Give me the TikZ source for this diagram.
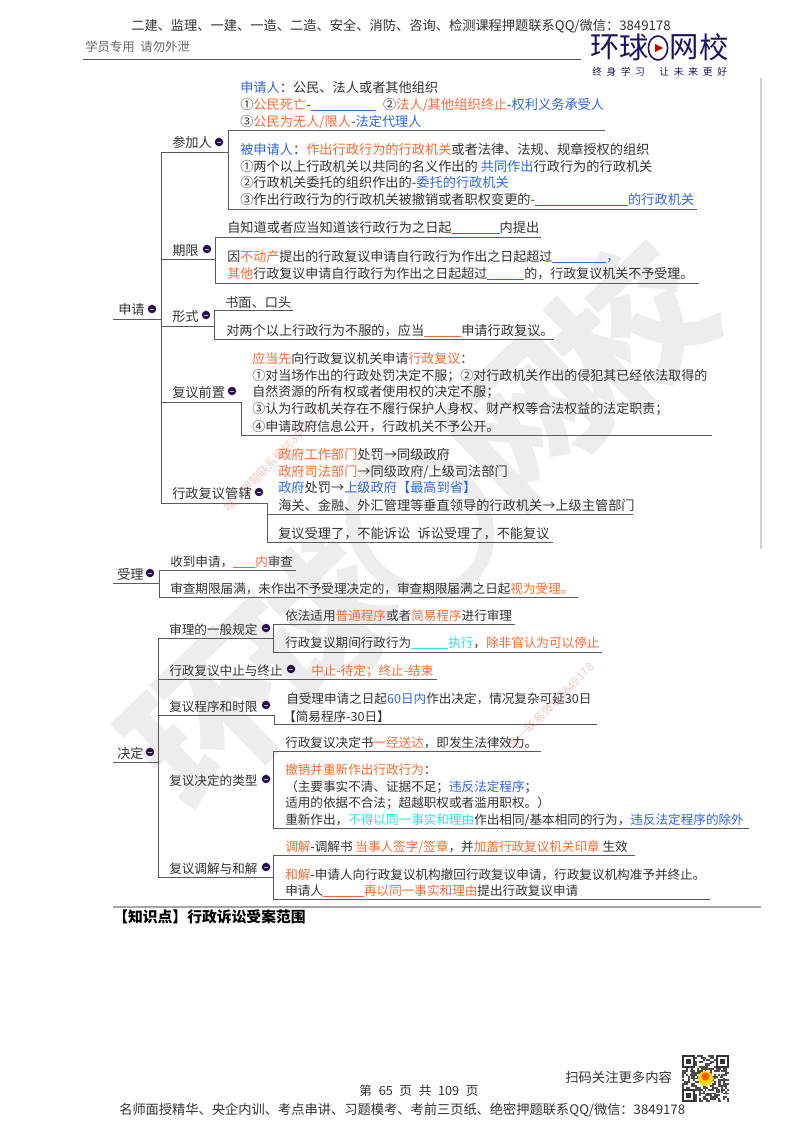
\documentclass[tikz,border=0pt]{standalone}
\usepackage{fontspec}
\usetikzlibrary{shapes.geometric}
\setmainfont{Noto Sans CJK SC}
\definecolor{ink}{HTML}{333333}
\definecolor{org}{HTML}{F96A35}
\definecolor{blu}{HTML}{2F66E8}
\definecolor{cya}{HTML}{2FE3E3}
\definecolor{rul}{HTML}{5A5A5A}
\definecolor{dotc}{HTML}{2A1250}
\definecolor{navy}{HTML}{1B1464}
\definecolor{wm}{HTML}{EDEDED}
\definecolor{pinkw}{HTML}{F3C9C9}
\newcommand\org[1]{\textcolor{org}{#1}}
\newcommand\blu[1]{\textcolor{blu}{#1}}
\newcommand\cya[1]{\textcolor{cya}{#1}}
\newcommand\blk[2]{\textcolor{#1}{\rule[-1pt]{\dimexpr#2pt*3/4\relax}{0.75pt}}}
\newcommand\tx[4]{\node[txt] (#1) at (#2,#3) {#4};}
\newcommand\dt[3]{\node[dotm] (#1) at (#2,#3) {};}
\newcommand\fsb{\fontsize{9.75pt}{12pt}\selectfont}
\newcommand\fsc{\fontsize{9.45pt}{12pt}\selectfont}
\tikzset{
 txt/.style={anchor=base west,inner sep=0pt,yshift=-3.4pt,text=ink,font=\fontsize{9.9pt}{12pt}\selectfont},
 rl/.style={draw=rul,line width=0.7pt},
 dotm/.style={circle,inner sep=0pt,minimum size=6.4pt,fill=dotc,path picture={\draw[gray!60,line width=.4pt] ([xshift=1.4pt]path picture bounding box.west)--([xshift=-1.4pt]path picture bounding box.east);}},
}
\begin{document}
\begin{tikzpicture}[x=0.75pt,y=-0.75pt]
\useasboundingbox (0,0) rectangle (800,1132);
\fill[white] (0,0) rectangle (800,1132);
% big watermark
\begin{scope}[shift={(420,525)},rotate=43.5]
 \foreach \u/\c/\n in {-290/环/wa,-145/球/wb,150/网/wc,290/校/wd}
  \node[text=wm,rotate=43.5,inner sep=0pt,font=\fontsize{115pt}{115pt}\selectfont\bfseries] (\n) at (\u,0) {\c};
 \draw[wm,line width=11pt] (0,0) ellipse (62 and 72);
\end{scope}
% pink watermarks
\node[rotate=46,text=pinkw,inner sep=0pt,font=\fontsize{8.8pt}{10pt}\selectfont] (pka) at (275,459) {唯一押题联系微信3849178};
\node[rotate=45,text=pinkw,inner sep=0pt,font=\fontsize{8.8pt}{10pt}\selectfont] (pkb) at (551,706) {唯一联系微信3849178};
% header
\node[anchor=base west,inner sep=0pt,text=ink,font=\fontsize{9.93pt}{12pt}\selectfont] (hdr) at (131,30) {二建、监理、一建、一造、二造、安全、消防、咨询、检测课程押题联系QQ/微信：3849178};
\node[anchor=base west,inner sep=0pt,text=black!60,font=\fontsize{9.3pt}{12pt}\selectfont] (stu) at (85,51) {学员专用\ \ 请勿外泄};
\coordinate (h1) at (83,59); \coordinate (h2) at (581,59); \draw[rl] (h1)--(h2);
% logo
\foreach \x/\c/\n in {605/环/la,634/球/lb,684/网/lc,714/校/ld}
 \node[text=navy,inner sep=0pt,font=\fontsize{22pt}{24pt}\selectfont] (\n) at (\x,47) {\c};
\node[draw=navy,line width=1.2pt,ellipse,minimum width=14.5pt,minimum height=18pt,inner sep=0pt] (lring) at (658,48) {};
\fill[red!80!black] (655,44)--(663,48)--(655,52)--cycle;
\node[anchor=base west,inner sep=0pt,text=navy,font=\fontsize{7.3pt}{9pt}\selectfont] (sl1) at (592,75) {终\hspace{3.4pt}身\hspace{3.4pt}学\hspace{3.4pt}习};
\node[anchor=base west,inner sep=0pt,text=navy,font=\fontsize{7.3pt}{9pt}\selectfont] (sl2) at (659,75) {让\hspace{3.6pt}未\hspace{3.6pt}来\hspace{3.6pt}更\hspace{3.6pt}好};
\coordinate (r1) at (761,78); \coordinate (r2) at (761,549); \draw[black!18,line width=1.5pt] (r1)--(r2);
% root 申请
\tx{sq}{118}{310}{申请} \dt{dsq}{152}{309}
\coordinate (sqa) at (113,319); \coordinate (sqb) at (161,319); \draw[rl] (sqa)--(sqb);
\coordinate (tr1) at (161,152); \coordinate (tr2) at (161,503); \draw[rl] (tr1)--(tr2);
% 参加人
\tx{cjr}{172}{143}{参加人} \dt{dcj}{219}{142}
\coordinate (cj0) at (228,152); \draw[rl] (tr1)--(cj0);
\coordinate (cj1) at (605,130); \coordinate (cj2) at (228,130); \coordinate (cj3) at (228,209); \coordinate (cj4) at (697,209);
\draw[rl] (cj1)--(cj2)--(cj3)--(cj4);
\tx{a1}{240}{88}{\blu{申请人}：公民、法人或者其他组织}
\tx{a2}{240}{105}{①\org{公民死亡}-\blk{blu}{65}\hspace{5.5pt}②\org{法人/其他组织终止}-\blu{权利义务承受人}}
\tx{a3}{240}{122}{③\org{公民为无人/限人}-\blu{法定代理人}}
\tx{a4}{240}{150}{\blu{被申请人}：\org{作出行政行为的行政机关}或者法律、法规、规章授权的组织}
\tx{a5}{240}{167}{①两个以上行政机关以共同的名义作出的 \blu{共同作出}行政行为的行政机关}
\tx{a6}{240}{183}{②行政机关委托的组织作出的-\blu{委托的行政机关}}
\tx{a7}{240}{200}{③作出行政行为的行政机关被撤销或者职权变更的-\blk{blu}{93}\blu{的行政机关}}
% 期限
\tx{qx}{172}{251}{期限} \dt{dqx}{207}{249}
\coordinate (qxa) at (161,259); \coordinate (qxb) at (215,259); \draw[rl] (qxa)--(qxb);
\coordinate (qx1) at (541,237); \coordinate (qx2) at (215,237); \coordinate (qx3) at (215,283); \coordinate (qx4) at (699,283);
\draw[rl] (qx1)--(qx2)--(qx3)--(qx4);
\tx{b1}{227}{228}{自知道或者应当知道该行政行为之日起\blk{blu}{48}内提出}
\tx{b2}{227}{257}{\fsb 因\org{不动产}提出的行政复议申请自行政行为作出之日起超过\blk{blu}{54}\blu{，}}
\tx{b3}{227}{274}{\fsb\org{其他}行政复议申请自行政行为作出之日起超过\blk{blu}{37}的，行政复议机关不予受理。}
% 形式
\tx{xs}{172}{317}{形式} \dt{dxs}{206}{315}
\coordinate (xsa) at (161,326); \coordinate (xsb) at (214,326); \draw[rl] (xsa)--(xsb);
\coordinate (xs1) at (293,310); \coordinate (xs2) at (214,310); \coordinate (xs3) at (214,339); \coordinate (xs4) at (554,339);
\draw[rl] (xs1)--(xs2)--(xs3)--(xs4);
\tx{c1}{225}{303}{书面、口头}
\tx{c2}{226}{331}{对两个以上行政行为不服的，应当\blk{org}{37}申请行政复议。}
% 复议前置
\tx{fy}{172}{393}{复议前置} \dt{dfy}{232}{391}
\coordinate (fya) at (161,402); \coordinate (fy1) at (241,402); \coordinate (fy2) at (241,435); \coordinate (fy3) at (712,435);
\draw[rl] (fya)--(fy1)--(fy2)--(fy3);
\tx{d1}{252}{359}{\fsb\org{应当先}向行政复议机关申请\org{行政复议}：}
\tx{d2}{252}{376}{\fsb ①对当场作出的行政处罚决定不服；②对行政机关作出的侵犯其已经依法取得的}
\tx{d3}{252}{392}{\fsb 自然资源的所有权或者使用权的决定不服；}
\tx{d4}{252}{409}{\fsb ③认为行政机关存在不履行保护人身权、财产权等合法权益的法定职责；}
\tx{d5}{252}{427}{\fsb ④申请政府信息公开，行政机关不予公开。}
% 管辖
\tx{gx}{172}{494}{行政复议管辖} \dt{dgx}{259}{492}
\coordinate (gx0) at (267,503); \draw[rl] (tr2)--(gx0);
\coordinate (gx1) at (633,514); \coordinate (gx2) at (267,514); \draw[rl] (gx1)--(gx2);
\coordinate (gx3) at (267,542); \coordinate (gx4) at (553,542); \draw[rl] (gx0)--(gx3)--(gx4);
\tx{e1}{278}{455}{\org{政府工作部门}处罚→同级政府}
\tx{e2}{278}{472}{\org{政府司法部门}→同级政府/上级司法部门}
\tx{e3}{278}{488}{\blu{政府}处罚→\blu{上级政府【最高到省】}}
\tx{e4}{278}{506}{海关、金融、外汇管理等垂直领导的行政机关→上级主管部门}
\tx{e5}{278}{534}{复议受理了，不能诉讼\hspace{5.5pt}诉讼受理了，不能复议}
% 受理
\tx{sl}{117}{575}{受理} \dt{dsl}{150}{573}
\coordinate (sla) at (113,583); \coordinate (slb) at (159,583); \draw[rl] (sla)--(slb);
\coordinate (sl3) at (296,570); \coordinate (sl4) at (159,570); \coordinate (sl5) at (159,597); \coordinate (sl6) at (578,597);
\draw[rl] (sl3)--(sl4)--(sl5)--(sl6);
\tx{f1}{170}{562}{\fsc 收到申请，\blk{org}{22}\org{内}审查}
\tx{f2}{170}{589}{\fsc 审查期限届满，未作出不予受理决定的，审查期限届满之日起\org{视为受理。}}
% 决定
\tx{jd}{117}{754}{决定} \dt{djd}{150}{752}
\coordinate (jda) at (113,762); \coordinate (jdb) at (158,762); \draw[rl] (jda)--(jdb);
\coordinate (tk1) at (158,638); \coordinate (tk2) at (158,877); \draw[rl] (tk1)--(tk2);
\tx{g0}{169}{630}{\fsc 审理的一般规定} \dt{dg0}{266}{628}
\coordinate (g0a) at (273,638); \draw[rl] (tk1)--(g0a);
\coordinate (g01) at (515,624); \coordinate (g02) at (273,624); \coordinate (g03) at (273,652); \coordinate (g04) at (602,652);
\draw[rl] (g01)--(g02)--(g03)--(g04);
\tx{g1}{285}{616}{\fsc 依法适用\org{普通程序}或者\org{简易程序}进行审理}
\tx{g2}{285}{643}{\fsc 行政复议期间行政行为\blk{cya}{37}\cya{执行}，\org{除非官认为可以停止}}
\tx{h0}{169}{671}{\fsc 行政复议中止与终止} \dt{dh0}{291}{669}
\coordinate (h0a) at (158,679); \coordinate (h0b) at (437,679); \draw[rl] (h0a)--(h0b);
\tx{h3}{311}{671}{\fsc\org{中止-待定；终止-结束}}
\tx{i0}{169}{707}{\fsc 复议程序和时限} \dt{di0}{266}{705}
\coordinate (i0a) at (158,715); \coordinate (i0b) at (274,715); \coordinate (i0c) at (274,724); \coordinate (i0d) at (597,724);
\draw[rl] (i0a)--(i0b)--(i0c)--(i0d);
\tx{i1}{286}{699}{\fsc 自受理申请之日起\blu{60日内}作出决定，情况复杂可延30日}
\tx{i2}{283}{717}{\fsc 【简易程序-30日】}
\tx{j0}{169}{781}{\fsc 复议决定的类型} \dt{dj0}{266}{779}
\coordinate (j01) at (541,751); \coordinate (j02) at (273,751); \coordinate (j03) at (273,828); \coordinate (j04) at (749,828);
\draw[rl] (j01)--(j02)--(j03)--(j04);
\tx{j1}{285}{743}{\fsc 行政复议决定书\org{一经送达}，即发生法律效力。}
\tx{j2}{285}{770}{\fsc\org{撤销并重新作出行政行为}：}
\tx{j3}{285}{787}{\fsc （主要事实不清、证据不足；\blu{违反法定程序}；}
\tx{j4}{285}{803}{\fsc 适用的依据不合法；超越职权或者滥用职权。）}
\tx{j5}{285}{820}{\fsc 重新作出，\cya{不得以同一事实和理由}作出相同/基本相同的行为，\blu{违反法定程序的除外}}
\tx{k0}{169}{869}{\fsc 复议调解与和解} \dt{dk0}{266}{867}
\coordinate (k0a) at (273,877); \draw[rl] (tk2)--(k0a);
\coordinate (k01) at (635,855); \coordinate (k02) at (273,855); \coordinate (k03) at (273,899); \coordinate (k04) at (710,899);
\draw[rl] (k01)--(k02)--(k03)--(k04);
\tx{k1}{285}{847}{\fsc\org{调解}-调解书 \org{当事人签字/签章}，并\org{加盖行政复议机关印章} 生效}
\tx{k2}{285}{875}{\fsc\org{和解}-申请人向行政复议机构撤回行政复议申请，行政复议机构准予并终止。}
\tx{k3}{285}{891}{\fsc 申请人\blk{org}{41}\org{再以同一事实和理由}提出行政复议申请}
% bottom
\coordinate (b1) at (113,907); \coordinate (b2) at (761,907); \draw[black!35,line width=0.8pt] (b1)--(b2);
\node[anchor=base west,inner sep=0pt,text=black,font=\fontsize{11.1pt}{13pt}\selectfont\bfseries] (kd) at (113,922) {【知识点】行政诉讼受案范围};
\node[anchor=base west,inner sep=0pt,text=ink,font=\fontsize{10pt}{12pt}\selectfont] (scan) at (565,1082) {扫码关注更多内容};
\node[anchor=base,inner sep=0pt,text=ink,font=\fontsize{9.5pt}{12pt}\selectfont] (pg) at (419,1095) {第\hspace{5pt}65\hspace{5pt}页\hspace{5pt}共\hspace{5pt}109\hspace{5pt}页};
\node[anchor=base west,inner sep=0pt,text=ink,font=\fontsize{9.93pt}{12pt}\selectfont] (ftr) at (119,1114) {名师面授精华、央企内训、考点串讲、习题模考、考前三页纸、绝密押题联系QQ/微信：3849178};
% QR
\pgfmathsetseed{4217}
\foreach \i in {0,...,24}\foreach \j in {0,...,24}{
 \pgfmathparse{rnd>0.5?1:0}
 \ifnum\pgfmathresult=1 \fill[black!70] ({682+\i*1.88},{1055+\j*1.88}) rectangle ++(1.88,1.88);\fi}
\foreach \x/\y in {682/1055,716/1055,682/1089}{
 \fill[black!80] (\x,\y) rectangle ++(13.2,13.2);
 \fill[white] ({\x+1.9},{\y+1.9}) rectangle ++(9.4,9.4);
 \fill[black!80] ({\x+3.8},{\y+3.8}) rectangle ++(5.6,5.6);}
\fill[yellow!75!orange] (705.5,1078.5) circle (7.5);
\fill[orange!70!red] (705.5,1076.5) circle (4);
\end{tikzpicture}
\end{document}
